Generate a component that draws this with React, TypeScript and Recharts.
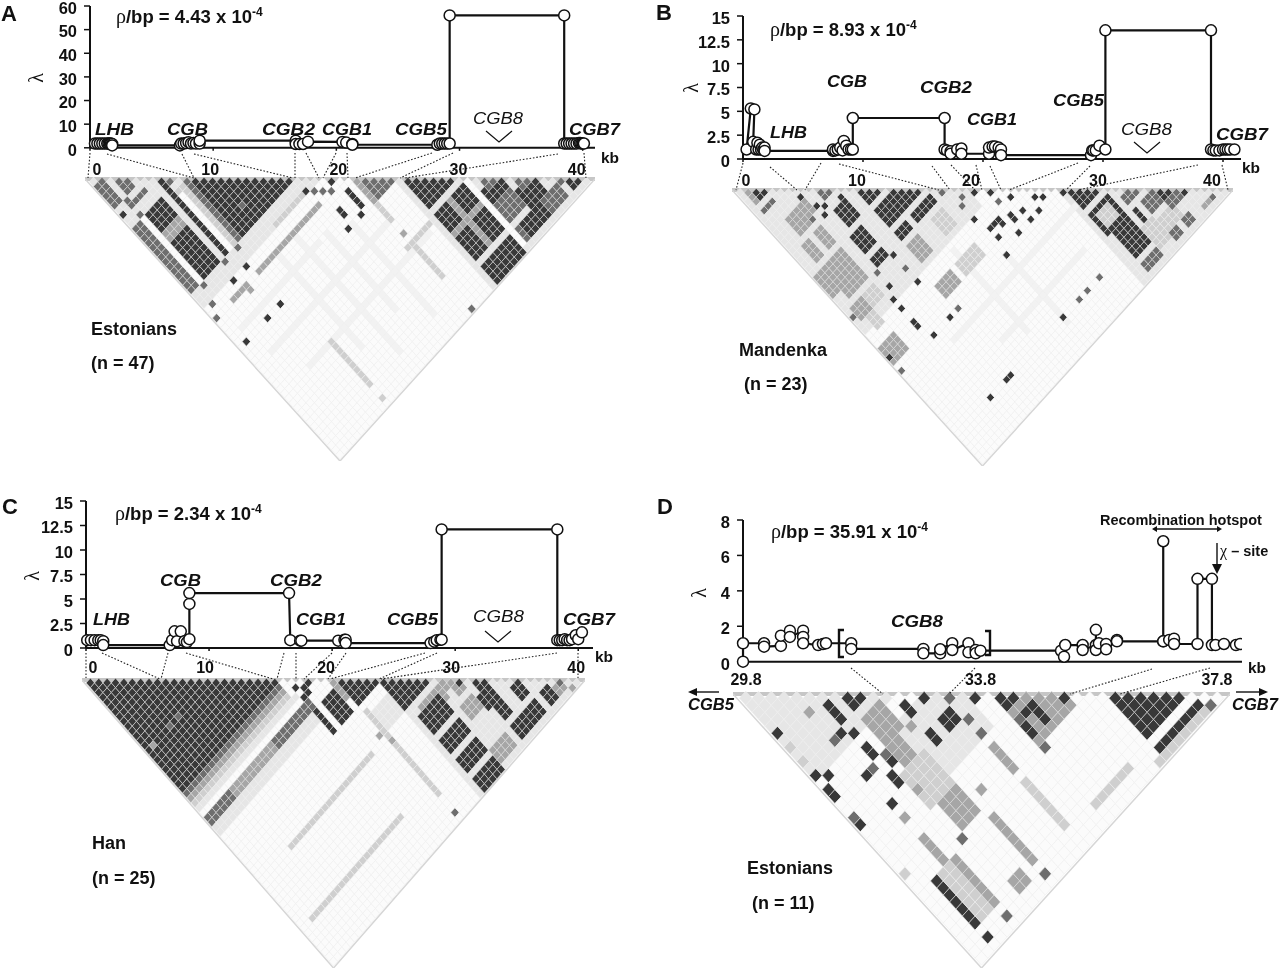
import { Line, LineChart, ReferenceLine, Scatter, ScatterChart, XAxis, YAxis } from 'recharts'

const FONT = '"Liberation Sans", Arial, sans-serif'

// recombination rate profile, one pair of lists per panel
const kbA = [0.4, 0.6, 0.8, 1.0, 1.2, 1.4, 1.5, 1.6, 1.7, 1.8, 1.8, 7.3, 7.4, 7.6, 7.8, 8.0, 8.2, 8.4, 8.6, 8.9, 8.9, 16.7, 16.7, 17.0, 17.3, 17.7, 20.5, 20.8, 21.3, 21.3, 28.2, 28.4, 28.6, 28.8, 29.0, 29.2, 29.2, 38.5, 38.5, 38.7, 38.9, 39.1, 39.3, 39.5, 39.7, 39.8, 39.9, 40.0, 40.1]
const lambdaA = [1.8, 1.8, 1.8, 1.8, 1.8, 1.8, 1.8, 1.8, 1.8, 1.6, 1.0, 1.0, 1.8, 1.8, 2.0, 2.4, 1.8, 2.0, 1.8, 1.8, 3.0, 3.0, 1.6, 1.6, 1.6, 2.6, 2.5, 2.2, 1.6, 1.3, 1.3, 1.8, 1.8, 1.8, 1.8, 1.8, 56, 56, 1.8, 1.8, 1.8, 1.8, 1.8, 1.8, 2.0, 2.0, 1.8, 1.8, 1.8]
const kbB = [0.3, 0.65, 0.95, 0.85, 1.1, 1.2, 1.3, 1.4, 1.5, 1.6, 1.7, 1.8, 1.8, 7.5, 7.5, 7.7, 7.9, 8.1, 8.3, 8.4, 8.6, 8.8, 9.0, 9.15, 9.15, 16.8, 16.8, 17.0, 17.3, 17.3, 17.85, 18.2, 18.2, 20.5, 20.5, 20.8, 21.0, 21.3, 21.5, 21.5, 29.0, 29.1, 29.2, 29.4, 29.7, 30.2, 30.2, 39.0, 39.0, 39.2, 39.4, 39.7, 40.0, 40.2, 40.4, 40.6, 40.95]
const lambdaB = [1.0, 5.3, 5.2, 1.8, 1.0, 1.7, 1.0, 1.5, 1.0, 1.2, 1.0, 1.2, 0.85, 0.85, 1.0, 0.9, 1.0, 1.2, 0.9, 1.9, 1.4, 1.0, 1.0, 1.0, 4.3, 4.3, 1.0, 0.9, 0.8, 0.55, 1.0, 1.1, 0.55, 0.55, 1.2, 1.3, 1.3, 1.2, 1.0, 0.4, 0.4, 0.9, 0.9, 0.9, 1.4, 1.0, 13.5, 13.5, 1.0, 0.9, 0.9, 0.9, 1.0, 1.0, 1.0, 1.0, 1.0]
const kbC = [0.1, 0.4, 0.7, 1.0, 1.2, 1.4, 1.4, 6.8, 7.0, 7.2, 7.4, 7.7, 8.0, 8.2, 8.4, 8.4, 8.4, 16.5, 16.6, 17.4, 17.5, 20.5, 21.0, 21.1, 21.1, 28.0, 28.3, 28.5, 28.8, 28.9, 28.9, 38.3, 38.3, 38.5, 38.7, 38.9, 39.1, 39.3, 39.5, 39.8, 40.0, 40.3]
const lambdaC = [0.8, 0.8, 0.8, 0.8, 0.8, 0.7, 0.3, 0.3, 0.8, 1.7, 0.7, 1.7, 0.7, 0.6, 0.9, 4.5, 5.6, 5.6, 0.8, 0.75, 0.75, 0.75, 0.85, 0.85, 0.5, 0.5, 0.65, 0.8, 0.85, 0.85, 12.1, 12.1, 0.8, 0.8, 0.8, 0.9, 0.8, 0.8, 0.9, 1.3, 0.9, 1.6]
const kbD = [29.8, 29.8, 30.15, 30.15, 30.43, 30.43, 30.58, 30.58, 30.8, 30.8, 30.8, 31.05, 31.13, 31.18, 31.6, 31.6, 32.8, 32.8, 33.08, 33.08, 33.28, 33.28, 33.55, 33.55, 33.67, 33.67, 33.75, 35.09, 35.14, 35.16, 35.45, 35.45, 35.67, 35.67, 35.67, 35.72, 35.84, 35.84, 36.02, 36.02, 36.79, 36.79, 36.79, 36.89, 36.97, 36.97, 37.36, 37.36, 37.6, 37.6, 37.66, 37.8, 38.0, 38.07]
const lambdaD = [0, 1.04, 1.04, 0.85, 0.89, 1.47, 1.75, 1.4, 1.75, 1.4, 1.04, 0.94, 1, 1.04, 1.04, 0.72, 0.72, 0.47, 0.47, 0.7, 1.04, 0.66, 1.04, 0.53, 0.66, 0.47, 0.62, 0.62, 0.28, 0.94, 0.94, 0.66, 0.94, 1.8, 0.66, 1.04, 1.0, 0.7, 1.23, 1.15, 1.15, 6.8, 1.15, 1.23, 1.3, 1.0, 1.0, 4.68, 4.68, 0.94, 0.94, 1.0, 0.94, 1.0]

const yTicksA = [0, 10, 20, 30, 40, 50, 60]
const yTicksBC = [0, 2.5, 5, 7.5, 10, 12.5, 15]
const yTicksD = [0, 2, 4, 6, 8]
const kbTicks = [0, 10, 20, 30, 40]
const kbTicksD = [29.8, 33.8, 37.8]

// LD cells: [first i, last i, first j, last j, shade], later entries paint over earlier ones
// shade 0 is the paper, 6 the faintest grey, 1-5 run from pale to near black
type Block = number[]
const blocksA: Block[] = [
  [0, 26, 1, 27, 1], [36, 59, 37, 59, 1], [14, 14, 30, 50, 6], [18, 18, 30, 55, 6], [22, 22, 34, 50, 6], [26, 26, 36, 55, 6], [3, 30, 40, 40, 6], [6, 34, 46, 46, 6], [2, 20, 34, 34, 6],
  [9, 10, 12, 24, 2], [11, 23, 12, 24, 5], [11, 11, 12, 24, 4],
  [0, 1, 11, 24, 4], [2, 2, 11, 24, 0], [3, 6, 11, 24, 5], [3, 6, 15, 16, 3], [7, 7, 11, 24, 1], [8, 8, 9, 24, 5], [9, 9, 13, 24, 0],
  [0, 1, 2, 6, 4], [3, 4, 4, 6, 4], [2, 5, 8, 8, 4],
  [10, 24, 30, 30, 3], [17, 23, 27, 27, 2], [4, 7, 30, 30, 3],
  [29, 29, 32, 35, 5], [31, 35, 32, 36, 3], [32, 35, 33, 36, 4],
  [37, 42, 38, 43, 5], [37, 43, 45, 54, 5], [37, 43, 49, 49, 3], [40, 40, 45, 54, 3], [44, 44, 44, 58, 0],
  [45, 48, 48, 52, 5], [45, 48, 51, 54, 4], [49, 52, 52, 55, 5], [46, 47, 46, 48, 4], [50, 51, 51, 52, 4],
  [37, 43, 56, 59, 5], [45, 54, 56, 58, 4], [46, 50, 56, 58, 5], [56, 57, 57, 58, 5],
  [11, 11, 46, 55, 2], [31, 31, 37, 40, 2], [31, 31, 45, 52, 2], [30, 35, 45, 45, 2],
]
const spotsA: Block[] = [
  [9, 10, 4], [2, 7, 4], [0, 8, 5], [2, 10, 4], [15, 21, 4], [10, 25, 4], [9, 28, 5], [6, 28, 5], [7, 25, 4], [2, 25, 4], [1, 28, 4], [0, 30, 4], [6, 36, 5], [9, 36, 5], [1, 36, 5], [7, 31, 3],
  [24, 27, 5], [25, 28, 4], [26, 29, 4], [28, 29, 5], [27, 30, 4], [26, 33, 5], [26, 34, 5], [25, 36, 5], [28, 36, 5], [55, 56, 4], [11, 58, 2], [31, 43, 3], [31, 59, 4],
]
const blocksB: Block[] = [
  [0, 28, 1, 32, 1], [40, 61, 41, 61, 1], [10, 40, 44, 44, 6], [16, 36, 50, 50, 6], [20, 20, 34, 52, 6], [26, 26, 42, 56, 6],
  [1, 3, 2, 4, 3], [2, 3, 3, 4, 5], [1, 3, 6, 6, 4], [3, 5, 10, 13, 3], [5, 7, 10, 12, 3], [10, 11, 11, 12, 4],
  [10, 12, 15, 18, 5], [15, 17, 16, 18, 5], [15, 18, 20, 23, 5], [19, 23, 20, 24, 5], [19, 23, 24, 24, 1], [19, 23, 25, 26, 5], [15, 17, 25, 26, 5], [9, 11, 20, 23, 5], [9, 11, 25, 26, 5],
  [5, 6, 15, 18, 3], [2, 3, 15, 18, 3], [3, 6, 20, 24, 3], [0, 2, 20, 24, 3], [4, 6, 25, 26, 3], [2, 3, 25, 26, 3], [0, 3, 36, 39, 3],
  [21, 23, 28, 31, 2], [15, 17, 28, 31, 3], [19, 23, 36, 38, 2], [14, 17, 36, 38, 3], [4, 6, 28, 30, 2], [1, 3, 28, 30, 3], [2, 3, 31, 33, 2],
  [41, 44, 42, 45, 5], [41, 45, 47, 51, 5], [42, 44, 48, 50, 2], [42, 45, 52, 54, 5], [42, 45, 55, 57, 5], [42, 45, 59, 60, 4],
  [46, 48, 55, 57, 2], [50, 52, 56, 58, 2], [46, 50, 56, 59, 2], [47, 49, 49, 50, 4], [49, 51, 52, 54, 4], [52, 54, 55, 56, 4], [52, 53, 53, 54, 5], [47, 47, 52, 54, 5], [52, 53, 59, 60, 4], [49, 50, 59, 60, 4], [56, 57, 60, 60, 3],
]
const spotsB: Block[] = [
  [7, 9, 5], [8, 12, 5], [9, 13, 5], [8, 14, 5], [12, 14, 5], [6, 13, 4], [8, 30, 5], [7, 32, 5], [7, 34, 5], [7, 37, 5], [7, 38, 5], [8, 41, 5], [12, 41, 5], [14, 41, 4], [12, 33, 5], [12, 27, 5], [8, 27, 4], [12, 30, 4], [0, 38, 5], [0, 41, 4], [0, 29, 4],
  [29, 36, 5], [31, 37, 5], [33, 38, 5], [31, 38, 5], [33, 40, 5], [35, 40, 5], [29, 37, 5], [30, 40, 5], [26, 41, 5], [31, 32, 5], [31, 34, 4], [33, 35, 5], [36, 38, 5], [37, 39, 5], [40, 41, 5], [26, 33, 5], [27, 36, 5], [28, 36, 5], [27, 38, 5], [27, 29, 4], [26, 30, 4], [29, 30, 5], [25, 26, 4],
  [26, 55, 5], [35, 55, 4], [32, 55, 4], [30, 55, 4], [12, 55, 5], [13, 55, 5], [8, 55, 5], [55, 56, 5], [58, 60, 4],
]
const blocksC: Block[] = [
  [0, 23, 1, 23, 5], [0, 22, 24, 24, 4], [0, 22, 25, 25, 3], [0, 22, 26, 26, 2], [0, 23, 27, 27, 1], [0, 23, 29, 30, 3], [0, 5, 29, 30, 4], [16, 24, 29, 30, 4], [0, 24, 31, 32, 1],
  [35, 59, 36, 59, 1], [24, 24, 31, 35, 5], [25, 25, 31, 35, 0], [26, 28, 31, 35, 5], [29, 30, 30, 33, 3], [30, 34, 31, 35, 5],
  [35, 40, 36, 41, 5], [41, 43, 43, 44, 3], [37, 41, 43, 45, 3], [36, 40, 44, 47, 5], [36, 40, 49, 51, 5], [36, 40, 53, 55, 5], [36, 40, 57, 59, 5],
  [45, 47, 49, 51, 5], [46, 47, 47, 48, 5], [50, 51, 52, 54, 5], [46, 47, 52, 54, 5], [43, 44, 45, 46, 3], [42, 44, 48, 50, 3], [53, 54, 56, 58, 5], [49, 51, 56, 58, 5], [46, 48, 56, 58, 5], [41, 44, 56, 58, 3], [55, 56, 57, 58, 3],
  [2, 23, 52, 52, 2], [7, 26, 42, 42, 2], [30, 30, 37, 54, 2], [31, 34, 38, 41, 1],
]
const spotsC: Block[] = [
  [7, 15, 4], [5, 15, 4], [1, 15, 3], [24, 26, 5], [25, 27, 5], [26, 27, 5], [24, 28, 5], [25, 28, 5], [44, 45, 5], [56, 57, 4], [57, 59, 3], [30, 58, 4], [29, 41, 3], [30, 43, 3],
]
const blocksD: Block[] = [
  [0, 20, 1, 12, 1], [10, 17, 15, 22, 1], [8, 10, 12, 15, 3], [8, 9, 16, 19, 3], [7, 10, 19, 23, 2], [8, 10, 24, 27, 3],
  [11, 11, 29, 35, 3], [4, 4, 25, 28, 3], [5, 5, 29, 35, 3], [3, 4, 29, 35, 2], [2, 2, 29, 35, 5], [8, 9, 35, 36, 3], [20, 25, 36, 36, 2],
  [16, 16, 24, 27, 3], [16, 16, 29, 35, 2], [20, 25, 21, 27, 3], [29, 34, 30, 35, 5], [29, 35, 37, 37, 5], [28, 36, 38, 38, 2],
]
const spotsD: Block[] = [
  [0, 6, 5], [6, 8, 5], [6, 9, 5], [6, 10, 5], [8, 9, 5], [9, 10, 5], [8, 10, 5], [5, 11, 5], [4, 11, 4], [6, 12, 5],
  [6, 14, 5], [6, 15, 5], [7, 17, 5], [7, 16, 4], [5, 16, 4], [4, 16, 5], [6, 18, 5], [6, 19, 5], [0, 12, 5], [1, 13, 5], [0, 14, 5], [0, 15, 5], [4, 20, 5], [0, 18, 4], [0, 19, 5],
  [12, 14, 5], [12, 15, 5], [14, 15, 5], [15, 18, 5], [14, 18, 5], [15, 19, 5], [14, 19, 5], [12, 18, 5], [12, 19, 5], [18, 19, 5], [16, 20, 4], [16, 22, 4],
  [20, 21, 5], [21, 22, 5], [20, 22, 5], [20, 24, 4], [21, 24, 5], [22, 24, 5], [22, 25, 5], [22, 26, 5], [25, 26, 5], [20, 25, 5], [20, 26, 5], [20, 28, 4], [36, 38, 4],
  [2, 37, 5], [5, 37, 4], [11, 37, 4], [4, 7, 3], [0, 8, 2], [0, 10, 2], [11, 16, 3], [16, 17, 4], [7, 28, 4], [4, 22, 3], [7, 21, 3], [12, 26, 3], [0, 26, 2],
]

const SHADES = ['#fbfbfb', '#e6e6e6', '#cfcfcf', '#a6a6a6', '#6e6e6e', '#383838', '#f2f2f2']

const buildCells = (n: number, blocks: Block[], spots: Block[]) => {
  const cells = []
  for (let i = 0; i < n - 1; i++) {
    for (let j = i + 1; j < n; j++) {
      let shade = 0
      blocks.forEach(b => {
        if (i >= b[0] && i <= b[1] && j >= b[2] && j <= b[3]) shade = b[4]
      })
      spots.forEach(s => {
        if (s[0] === i && s[1] === j) shade = s[2]
      })
      cells.push({ pos: (i + j + 1) / 2, row: j - i, shade })
    }
  }
  return cells
}

const LdTriangle = ({ n, left, top, width, height, blocks, spots }: any) => {
  const halfW = width / n / 2
  const halfH = height / n
  const Cell = (p: any) => (
    <path
      d={`M${p.cx},${p.cy - halfH}L${p.cx + halfW},${p.cy}L${p.cx},${p.cy + halfH}L${p.cx - halfW},${p.cy}Z`}
      fill={SHADES[p.payload.shade]}
      stroke={p.payload.shade > 2 && p.payload.shade < 6 ? '#ddd' : '#eee'}
      strokeWidth={0.6}
    />
  )
  return (
    <div style={{ position: 'absolute', left, top: top - 3 }}>
      <ScatterChart width={width} height={height + 3} margin={{ top: 3, right: 0, bottom: 0, left: 0 }}>
        <XAxis type="number" dataKey="pos" domain={[0, n]} hide />
        <YAxis type="number" dataKey="row" domain={[0.4, n + 0.4]} reversed hide />
        <Scatter data={buildCells(n, blocks, spots)} shape={Cell} isAnimationActive={false} />
        <ReferenceLine segment={[{ x: 0, y: 0.4 }, { x: n, y: 0.4 }]} stroke="#c6c6c6" strokeWidth={4} ifOverflow="visible" />
        <ReferenceLine segment={[{ x: 0, y: 0.4 }, { x: n / 2, y: n + 0.4 }]} stroke="#d6d6d6" strokeWidth={1.5} ifOverflow="visible" />
        <ReferenceLine segment={[{ x: n, y: 0.4 }, { x: n / 2, y: n + 0.4 }]} stroke="#d6d6d6" strokeWidth={1.5} ifOverflow="visible" />
      </ScatterChart>
    </div>
  )
}

const Profile = ({ axisX, yTop, y0, plotW, kb, lambda, xDomain, xTicks, yTicks, yMax, nudges, labelDrop, marks = true }: any) => {
  const data = kb.map((k: number, i: number) => ({ kb: k, lambda: lambda[i] }))
  const KbTick = (p: any) => (
    <text x={p.x + nudges[p.index]} y={p.y + 10} textAnchor="middle" fontFamily={FONT} fontWeight="bold" fontSize={16} fill="#111">
      {p.payload.value}
    </text>
  )
  return (
    <div style={{ position: 'absolute', left: axisX - 50, top: yTop - 10 }}>
      <LineChart width={plotW + 50} height={y0 - yTop + 40} data={data} margin={{ top: 10, right: 0, bottom: 0, left: 0 }}>
        <XAxis
          type="number"
          dataKey="kb"
          domain={xDomain}
          ticks={xTicks}
          interval={0}
          height={30}
          tick={KbTick}
          tickSize={marks ? 3 : 0}
          tickMargin={labelDrop}
          axisLine={{ stroke: '#111', strokeWidth: 2 }}
          tickLine={{ stroke: '#111', strokeWidth: 1.5 }}
        />
        <YAxis
          type="number"
          width={50}
          domain={[0, yMax]}
          ticks={yTicks}
          interval={0}
          tickSize={6}
          tickMargin={7}
          tick={{ fontFamily: FONT, fontWeight: 'bold', fontSize: 16.5, fill: '#111', dy: 2 }}
          axisLine={{ stroke: '#111', strokeWidth: 2 }}
          tickLine={{ stroke: '#111', strokeWidth: 1.5 }}
        />
        <Line
          type="linear"
          dataKey="lambda"
          stroke="#111"
          strokeWidth={2.2}
          dot={{ r: 5.5, fill: '#fff', stroke: '#111', strokeWidth: 1.5 }}
          isAnimationActive={false}
        />
      </LineChart>
    </div>
  )
}

const Rho = ({ x, y, value }: any) => (
  <text x={x} y={y} fontFamily={FONT} fontWeight="bold" fontSize={18.5} fill="#111">
    <tspan fontFamily='"Liberation Serif", serif' fontWeight="normal" fontSize={20}>ρ</tspan>/bp = {value} x 10
    <tspan dy={-7} fontSize={12}>-4</tspan>
  </text>
)
const Gene = ({ x, y, w, light, children }: any) => (
  <text x={x} y={y} fontFamily={FONT} fontStyle="italic" fontWeight={light ? 'normal' : 'bold'} fontSize={17} textLength={w} lengthAdjust="spacingAndGlyphs" fill="#111">
    {children}
  </text>
)
const Bold = ({ x, y, size = 18, children }: any) => (
  <text x={x} y={y} fontFamily={FONT} fontWeight="bold" fontSize={size} fill="#111">{children}</text>
)
const Lambda = ({ x, y }: any) => (
  <text x={x} y={y} transform={`rotate(-90 ${x} ${y})`} textAnchor="middle" dominantBaseline="middle" fontFamily='"Liberation Serif", serif' fontSize={20} fill="#111">λ</text>
)
const Chevron = ({ x, y }: any) => (
  <polyline points={`${x - 13},${y} ${x},${y + 11} ${x + 13},${y}`} fill="none" stroke="#111" strokeWidth={1.2} />
)

const linksA = [[90, 153, 88, 178], [107, 154, 194, 178], [182, 154, 194, 178], [194, 154, 293, 178], [295, 153, 295, 178], [306, 153, 319, 178], [336, 153, 323, 178], [347, 153, 348, 178], [432, 153, 355, 178], [453, 153, 400, 178], [558, 154, 405, 178], [584, 153, 586, 178]]
const linksB = [[743, 163, 736, 190], [770, 167, 797, 190], [821, 163, 805, 190], [839, 164, 939, 190], [932, 166, 950, 190], [951, 165, 975, 190], [976, 165, 982, 190], [990, 166, 1001, 190], [1078, 163, 1009, 190], [1090, 166, 1066, 190], [1198, 165, 1078, 190], [1222, 165, 1228, 190]]
const linksC = [[86, 653, 86, 678], [102, 653, 160, 679], [168, 653, 161, 679], [186, 653, 273, 679], [284, 653, 277, 679], [296, 653, 296, 679], [332, 653, 304, 679], [346, 653, 328, 679], [425, 653, 330, 679], [437, 653, 379, 679], [557, 653, 381, 679], [578, 653, 578, 678]]
const linksD = [[851, 668, 883, 694], [975, 668, 949, 694], [1152, 669, 1070, 694], [1210, 668, 1120, 694]]

const Annotations = () => (
  <svg width={1280} height={973} style={{ position: 'absolute', left: 0, top: 0 }}>
    {[...linksA, ...linksB, ...linksC, ...linksD].map((l, i) => (
      <line key={i} x1={l[0]} y1={l[1]} x2={l[2]} y2={l[3]} stroke="#222" strokeWidth={1.1} strokeDasharray="1.6 1.8" />
    ))}

    <Bold x={1} y={21} size={22}>A</Bold>
    <Rho x={116} y={23} value="4.43" />
    <Lambda x={38} y={78} />
    <Gene x={95} y={135} w={39}>LHB</Gene>
    <Gene x={167} y={135} w={41}>CGB</Gene>
    <Gene x={262} y={135} w={53}>CGB2</Gene>
    <Gene x={322} y={135} w={50}>CGB1</Gene>
    <Gene x={395} y={135} w={52}>CGB5</Gene>
    <Gene x={473} y={124} w={50} light>CGB8</Gene>
    <Chevron x={499} y={131} />
    <Gene x={569} y={135} w={51}>CGB7</Gene>
    <Bold x={601} y={163} size={15.5}>kb</Bold>
    <Bold x={91} y={335}>Estonians</Bold>
    <Bold x={91} y={369}>(n = 47)</Bold>

    <Bold x={656} y={20} size={22}>B</Bold>
    <Rho x={770} y={36} value="8.93" />
    <Lambda x={693} y={88} />
    <Gene x={770} y={138} w={37}>LHB</Gene>
    <Gene x={827} y={87} w={40}>CGB</Gene>
    <Gene x={920} y={93} w={52}>CGB2</Gene>
    <Gene x={967} y={125} w={50}>CGB1</Gene>
    <Gene x={1053} y={106} w={51}>CGB5</Gene>
    <Gene x={1121} y={135} w={51} light>CGB8</Gene>
    <Chevron x={1147} y={142} />
    <Gene x={1216} y={140} w={52}>CGB7</Gene>
    <Bold x={1242} y={173} size={15.5}>kb</Bold>
    <Bold x={739} y={356}>Mandenka</Bold>
    <Bold x={744} y={390}>(n = 23)</Bold>

    <Bold x={2} y={514} size={22}>C</Bold>
    <Rho x={115} y={520} value="2.34" />
    <Lambda x={34} y={576} />
    <Gene x={93} y={625} w={37}>LHB</Gene>
    <Gene x={160} y={586} w={41}>CGB</Gene>
    <Gene x={270} y={586} w={52}>CGB2</Gene>
    <Gene x={296} y={625} w={50}>CGB1</Gene>
    <Gene x={387} y={625} w={51}>CGB5</Gene>
    <Gene x={473} y={622} w={51} light>CGB8</Gene>
    <Chevron x={498} y={631} />
    <Gene x={563} y={625} w={52}>CGB7</Gene>
    <Bold x={595} y={662} size={15.5}>kb</Bold>
    <Bold x={92} y={849}>Han</Bold>
    <Bold x={92} y={884}>(n = 25)</Bold>

    <Bold x={657} y={514} size={22}>D</Bold>
    <Rho x={771} y={538} value="35.91" />
    <Lambda x={701} y={593} />
    <Gene x={891} y={627} w={52}>CGB8</Gene>
    <Bold x={1248} y={673} size={15.5}>kb</Bold>
    <Bold x={1100} y={525} size={14.5}>Recombination hotspot</Bold>
    <line x1={1155} y1={529} x2={1219} y2={529} stroke="#111" strokeWidth={1.3} />
    <path d="M1152,529l5,-3v6ZM1222,529l-5,-3v6Z" fill="#111" />
    <line x1={1217} y1={543} x2={1217} y2={566} stroke="#111" strokeWidth={1.4} />
    <path d="M1217,574l-5,-10h10Z" fill="#111" />
    <text x={1220} y={556} fontFamily={FONT} fontWeight="bold" fontSize={14.5} fill="#111">
      <tspan fontFamily='"Liberation Serif", serif' fontWeight="normal" fontSize={16}>χ</tspan> – site
    </text>
    <path d="M844,630h-5v27h5M985,631h5v24h-5" fill="none" stroke="#111" strokeWidth={2.4} />
    <line x1={696} y1={692} x2={719} y2={692} stroke="#111" strokeWidth={1.4} />
    <path d="M688,692l9,-4v8Z" fill="#111" />
    <Gene x={688} y={710} w={46}>CGB5</Gene>
    <line x1={1236} y1={692} x2={1260} y2={692} stroke="#111" strokeWidth={1.4} />
    <path d="M1268,692l-9,-4v8Z" fill="#111" />
    <Gene x={1232} y={710} w={46}>CGB7</Gene>
    <Bold x={747} y={874}>Estonians</Bold>
    <Bold x={752} y={909}>(n = 11)</Bold>
  </svg>
)

export default function App() {
  return (
    <div style={{ position: 'absolute', left: 0, top: 0, width: 1280, height: 973, background: '#fff', overflow: 'hidden', filter: 'blur(0.3px)' }}>
      <LdTriangle n={60} left={85} top={179} width={510} height={282} blocks={blocksA} spots={spotsA} />
      <LdTriangle n={62} left={732} top={190} width={501} height={276} blocks={blocksB} spots={spotsB} />
      <LdTriangle n={60} left={82} top={680} width={503} height={288} blocks={blocksC} spots={spotsC} />
      <LdTriangle n={39} left={733} top={694} width={497} height={274} blocks={blocksD} spots={spotsD} />
      <Annotations />
      <Profile axisX={90} yTop={5.7} y0={147.5} plotW={505} kb={kbA} lambda={lambdaA} xDomain={[0, 41]} xTicks={kbTicks} yTicks={yTicksA} yMax={60} nudges={[7, -3, 2, -1, -6]} labelDrop={14} />
      <Profile axisX={743} yTop={16} y0={159} plotW={498} kb={kbB} lambda={lambdaB} xDomain={[0, 41.5]} xTicks={kbTicks} yTicks={yTicksBC} yMax={15} nudges={[3, -6, -12, -5, -11]} labelDrop={14} />
      <Profile axisX={86} yTop={501} y0={648} plotW={507} kb={kbC} lambda={lambdaC} xDomain={[0, 41.2]} xTicks={kbTicks} yTicks={yTicksBC} yMax={15} nudges={[7, -4, -6, -4, -2]} labelDrop={12} />
      <Profile axisX={743} yTop={520} y0={661.7} plotW={499} kb={kbD} lambda={lambdaD} xDomain={[29.8, 38.1]} xTicks={kbTicksD} yTicks={yTicksD} yMax={8} nudges={[3, -3, -7]} labelDrop={13} marks={false} />
    </div>
  )
}
